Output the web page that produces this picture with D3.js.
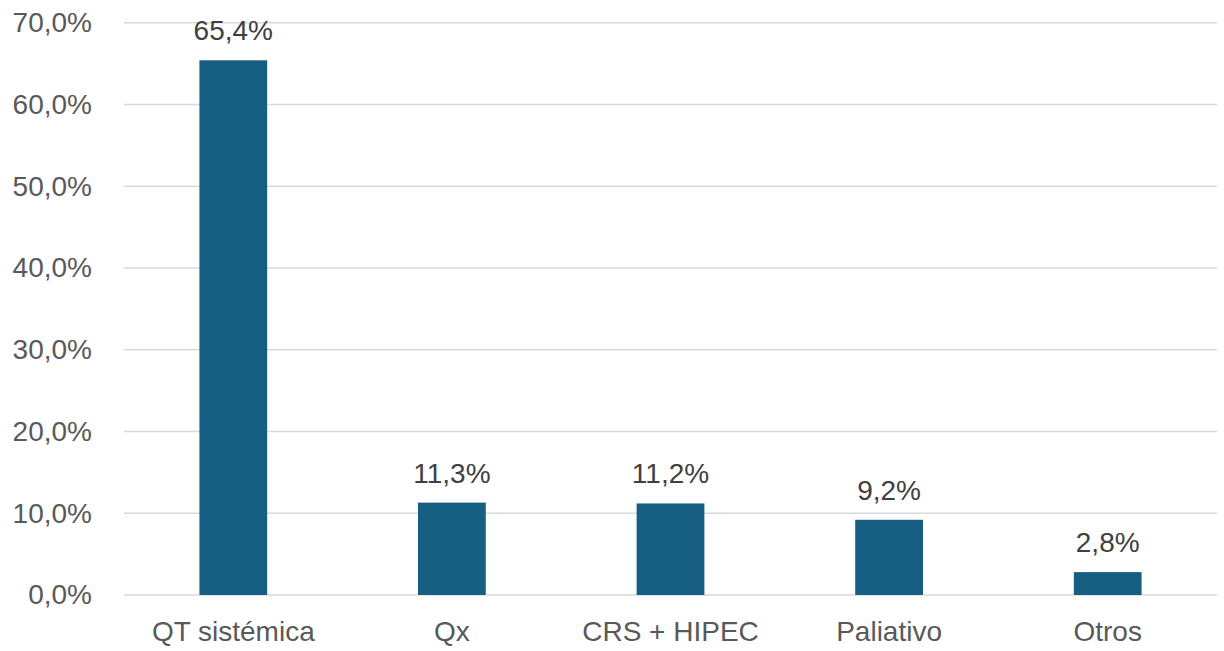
<!DOCTYPE html>
<html>
<head>
<meta charset="utf-8">
<script src="https://cdn.jsdelivr.net/npm/d3@7"></script>
<style>
  html, body { margin: 0; padding: 0; background: #fff; }
  svg { display: block; }
</style>
</head>
<body>
<svg id="chart" width="1224" height="651"></svg>
<script>
const categories = ["QT sistémica", "Qx", "CRS + HIPEC", "Paliativo", "Otros"];
const values = [65.4, 11.3, 11.2, 9.2, 2.8];
const valueLabels = ["65,4%", "11,3%", "11,2%", "9,2%", "2,8%"];
const yTicks = [0, 10, 20, 30, 40, 50, 60, 70];
const yTickLabels = ["0,0%", "10,0%", "20,0%", "30,0%", "40,0%", "50,0%", "60,0%", "70,0%"];

(function () {
const svg = d3.select("#chart");
const font = "'Liberation Sans', Arial, sans-serif";
const plotLeft = 124, plotRight = 1217, plotTop = 22.7, plotBottom = 595;

const x = d3.scaleBand().domain(categories).range([plotLeft, plotRight]).paddingInner(0.69).paddingOuter(0.345);
const y = d3.scaleLinear().domain([0, 70]).range([plotBottom, plotTop]);

svg.append("g").selectAll("line").data(yTicks).join("line")
  .attr("x1", plotLeft).attr("x2", plotRight)
  .attr("y1", d => y(d)).attr("y2", d => y(d))
  .attr("stroke", "#d9d9d9").attr("stroke-width", 1.5);

const yAxis = d3.axisLeft(y).tickValues(yTicks).tickFormat((d, i) => yTickLabels[i]).tickSize(0).tickPadding(32);
const gy = svg.append("g").attr("transform", `translate(${plotLeft},0)`).call(yAxis);
gy.select(".domain").remove();
gy.selectAll("text").attr("font-family", font).attr("font-size", 28).attr("fill", "#595959");

svg.append("g").selectAll("rect").data(values).join("rect")
  .attr("x", (d, i) => x(categories[i]))
  .attr("width", x.bandwidth())
  .attr("y", d => y(d))
  .attr("height", d => y(0) - y(d))
  .attr("fill", "#165f82");

svg.append("g").selectAll("text").data(values).join("text")
  .attr("x", (d, i) => x(categories[i]) + x.bandwidth() / 2)
  .attr("y", d => y(d) - 20)
  .attr("text-anchor", "middle")
  .attr("font-family", font).attr("font-size", 28).attr("fill", "#404040")
  .text((d, i) => valueLabels[i]);

const xAxis = d3.axisBottom(x).tickSize(0).tickPadding(26);
const gx = svg.append("g").attr("transform", `translate(0,${plotBottom})`).call(xAxis);
gx.select(".domain").remove();
gx.selectAll("text").attr("font-family", font).attr("font-size", 28).attr("fill", "#595959");
})();
</script>
</body>
</html>
